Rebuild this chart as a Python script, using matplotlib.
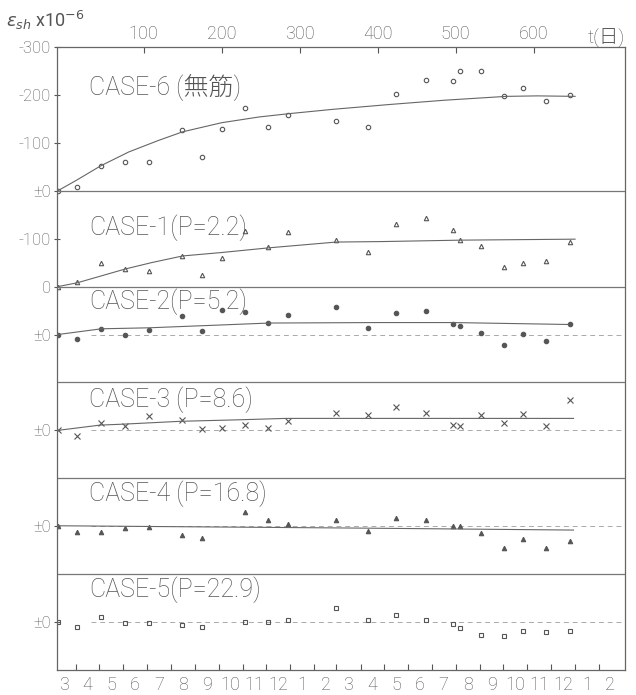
import numpy as np
import pandas as pd
import matplotlib
matplotlib.use("Agg")
import matplotlib.pyplot as plt

plt.rcParams['font.family'] = ['Roboto', 'Noto Sans CJK JP', 'DejaVu Sans']
plt.rcParams['mathtext.fontset'] = 'dejavusans'

nan = np.nan

# measurement days, t = 0 at start of drying
days = [-10, 14, 45, 76, 107, 149, 175, 200, 230, 260, 285, 346, 388, 423,
        462, 497, 506, 532, 562, 586, 616, 646]

# shrinkage strain, x10^-6 (magnitudes; drawn upward as negative strain)
case6 = [0, 8, 52, 60, 59, 126, 70, 129, 173, 133, 159, 145, 133, 201,
         232, 229, 250, 250, 198, 214, 188, 200]
case1 = [0, 9, 49, 36, 32, 64, 24, 59, 117, 82, 115, 97, 72, 130,
         143, 118, 97, 85, 41, 49, 54, 94]
case2 = [0, -10, 12, -1, 10, 38, 7, 52, 48, 25, 41, 57, 14, 44,
         50, 23, 18, 3, -22, 1, -14, 21]
case3 = [0, -12, 16, 9, 31, 22, 2, 6, 12, 5, 19, 37, 33, 49,
         36, 12, 10, 33, 16, 35, 10, 64]
case4 = [1, -11, -11, -4, -2, -19, -24, nan, 29, 14, 5, 13, -9, 17,
         14, 0, 1, -15, -45, -26, -45, -30]
case5 = [0, -10, 10, -2, -2, -7, -10, nan, 1, 1, 5, 30, 4, 14,
         4, -4, -13, -28, -29, -19, -21, -19]

# hand-drawn mean curves
curve6_t = [-10, 14, 45, 81, 119, 150, 200, 248, 287, 343, 415, 486, 565, 605, 653]
curve6_v = [0, 22, 52, 81, 105, 123, 142, 154, 161, 170, 180, 189, 197, 198, 197]
curve1_t = [-10, 15, 45, 77, 110, 150, 199, 261, 347, 405, 508, 653]
curve1_v = [0, 8, 22, 37, 50, 64, 71, 81, 93, 94, 97, 99]
curve2_t = [-10, 46, 106, 200, 261, 400, 497, 644]
curve2_v = [0, 12, 14, 20, 24, 25, 25, 21]
curve3_t = [-10, 44, 74, 148, 220, 282, 651]
curve3_v = [0, 11, 13, 19, 22, 25, 25]
curve4_t = [-12, 385, 651]
curve4_v = [1, -4, -8]

top_ticks = [100, 200, 300, 400, 500, 600]
ytick_pos = [1300, 1200, 1100, 1000, 900, 800, 700, 500, 300, 100]
ytick_lab = ['-300', '-200', '-100', '±0', '-100', '0', '±0', '±0', '±0', '±0']

start = pd.Timestamp('1973-03-19')
months = pd.date_range('1973-03-01', '1975-02-01', freq='MS')

# label, values, curve, baseline, label y, marker, fill
cases = [
    ('CASE-6 (無筋)', case6, (curve6_t, curve6_v), 1000, 1215, 'o', 'none'),
    ('CASE-1(P=2.2)', case1, (curve1_t, curve1_v), 800, 923, '^', 'none'),
    ('CASE-2(P=5.2)', case2, (curve2_t, curve2_v), 700, 768, 'o', '#555555'),
    ('CASE-3 (P=8.6)', case3, (curve3_t, curve3_v), 500, 564, 'x', 'none'),
    ('CASE-4 (P=16.8)', case4, (curve4_t, curve4_v), 300, 367, '^', '#555555'),
    ('CASE-5(P=22.9)', case5, None, 100, 167, 's', 'none'),
]

ink = '#555555'
fig = plt.figure(figsize=(6.36, 6.95), dpi=100)
ax = fig.add_axes([57 / 636, 25 / 695, 568 / 636, 623 / 695])
ax.set_xlim(-11, 717)
ax.set_ylim(0, 1300)

for label, vals, curve, base, ly, mk, fc in cases:
    y = base + np.array(vals, dtype=float)
    ms = 4.5 if mk == 'x' else 3.2
    ax.plot(days, y, linestyle='none', marker=mk, ms=ms, mfc=fc, mec=ink, mew=0.8)
    if curve is not None:
        ax.plot(curve[0], base + np.array(curve[1]), color='#666666', lw=0.8)
    if base < 800:
        ax.axhline(base, xmin=0.06, color='#aaaaaa', lw=0.7, ls=(0, (5, 4)), zorder=0)
    ax.text(30, ly, label, fontsize=18, color='#555555', ha='left', va='center',
            fontweight='light')

for yy in [1000, 800, 600, 400, 200]:
    ax.axhline(yy, color='#777777', lw=0.9)

for s in ax.spines.values():
    s.set_color('#666666')
    s.set_linewidth(0.9)

ax.set_yticks(ytick_pos)
ax.set_yticklabels(ytick_lab, fontweight='light')
ax.tick_params(axis='y', direction='inout', length=5, labelsize=12, colors=ink, pad=2)

bounds = pd.date_range('1973-04-01', '1975-02-01', freq='MS')
bound_days = (bounds - start).days
mid_days = (months - start).days + months.days_in_month / 2
ax.set_xticks(bound_days)
ax.set_xticklabels([])
ax.set_xticks(mid_days, minor=True)
ax.set_xticklabels([str(m) for m in months.month], minor=True, fontweight='light')
ax.tick_params(axis='x', which='major', direction='in', length=4, color=ink)
ax.tick_params(axis='x', which='minor', length=0, labelsize=13, labelcolor=ink, pad=4)

sec = ax.secondary_xaxis('top')
sec.set_xticks(top_ticks)
sec.set_xticklabels([str(t) for t in top_ticks], fontweight='light')
sec.tick_params(direction='in', length=4, labelsize=13, colors=ink, pad=3)
sec.spines['top'].set_visible(False)

fig.text(588 / 636, 1 - 38 / 695, 't(日)', fontsize=14, color=ink, va='center',
         fontweight='light')
fig.text(6 / 636, 1 - 20 / 695, r'$\varepsilon_{sh}$ x10$^{-6}$', fontsize=13,
         color=ink, va='center')

fig.savefig('out.png', dpi=100)
